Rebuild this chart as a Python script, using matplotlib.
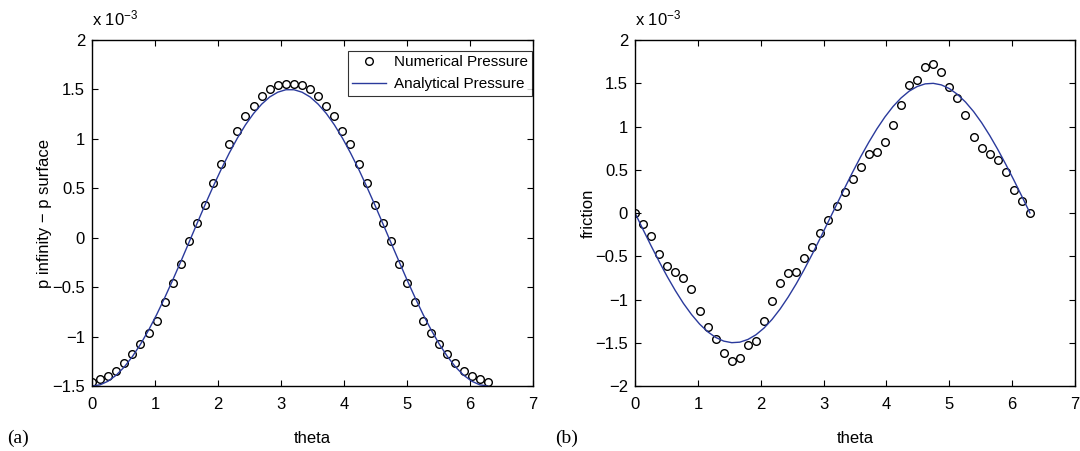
import numpy as np
import matplotlib.pyplot as plt

plt.rcParams['font.family'] = ['Liberation Sans', 'DejaVu Sans']
plt.rcParams['mathtext.default'] = 'regular'
plt.rcParams['xtick.direction'] = 'in'
plt.rcParams['ytick.direction'] = 'in'

# theta samples (0 .. 2*pi, 50 points)
theta = [0.000, 0.128, 0.256, 0.385, 0.513, 0.641, 0.769, 0.898, 1.026, 1.154,
         1.282, 1.411, 1.539, 1.667, 1.795, 1.923, 2.052, 2.180, 2.308, 2.436,
         2.565, 2.693, 2.821, 2.949, 3.077, 3.206, 3.334, 3.462, 3.590, 3.719,
         3.847, 3.975, 4.103, 4.232, 4.360, 4.488, 4.616, 4.744, 4.873, 5.001,
         5.129, 5.257, 5.386, 5.514, 5.642, 5.770, 5.898, 6.027, 6.155, 6.283]

# (a) pressure, units of 1e-3
p_num = [-1.455, -1.431, -1.397, -1.344, -1.266, -1.175, -1.070, -0.966, -0.841, -0.652,
         -0.454, -0.265, -0.032, 0.150, 0.332, 0.557, 0.746, 0.948, 1.077, 1.232,
         1.330, 1.431, 1.501, 1.542, 1.555, 1.555, 1.542, 1.501, 1.431, 1.330,
         1.232, 1.077, 0.948, 0.746, 0.557, 0.332, 0.150, -0.032, -0.265, -0.454,
         -0.652, -0.841, -0.966, -1.070, -1.175, -1.266, -1.344, -1.397, -1.431, -1.455]
p_ana = [-1.500, -1.488, -1.451, -1.390, -1.307, -1.202, -1.078, -0.935, -0.778, -0.607,
         -0.427, -0.239, -0.048, 0.144, 0.334, 0.518, 0.694, 0.858, 1.008, 1.142,
         1.257, 1.351, 1.424, 1.472, 1.497, 1.497, 1.472, 1.424, 1.351, 1.257,
         1.142, 1.008, 0.858, 0.694, 0.518, 0.334, 0.144, -0.048, -0.239, -0.427,
         -0.607, -0.778, -0.935, -1.078, -1.202, -1.307, -1.390, -1.451, -1.488, -1.500]

# (b) friction, units of 1e-3
f_num = [0.000, -0.131, -0.262, -0.474, -0.613, -0.686, -0.751, -0.879, -1.133, -1.322,
         -1.457, -1.622, -1.711, -1.680, -1.526, -1.476, -1.245, -1.014, -0.813, -0.697,
         -0.682, -0.524, -0.389, -0.231, -0.077, 0.085, 0.239, 0.393, 0.532, 0.682,
         0.702, 0.821, 1.021, 1.252, 1.483, 1.534, 1.684, 1.719, 1.630, 1.457,
         1.326, 1.137, 0.882, 0.755, 0.686, 0.616, 0.477, 0.266, 0.135, 0.000]
f_ana = [0.000, -0.192, -0.380, -0.563, -0.736, -0.897, -1.044, -1.173, -1.283, -1.372,
         -1.438, -1.481, -1.499, -1.493, -1.462, -1.408, -1.330, -1.230, -1.110, -0.972,
         -0.818, -0.651, -0.473, -0.287, -0.096, 0.096, 0.287, 0.473, 0.651, 0.818,
         0.972, 1.110, 1.230, 1.330, 1.408, 1.462, 1.493, 1.499, 1.481, 1.438,
         1.372, 1.283, 1.173, 1.044, 0.897, 0.736, 0.563, 0.380, 0.192, 0.000]

line_color = '#2a3a9c'

fig = plt.figure(figsize=(10.8, 4.51), dpi=100)
ax1 = fig.add_axes([0.0852, 0.1441, 0.4083, 0.7672])
ax2 = fig.add_axes([0.5880, 0.1441, 0.4074, 0.7672])


def style(ax, ylim, yticks):
    ax.set_xlim(0, 7)
    ax.set_ylim(*ylim)
    ax.set_xticks(range(0, 8))
    ax.set_yticks(yticks)
    ax.set_yticklabels([('%g' % v).replace('-', '\u2212') for v in yticks])
    ax.tick_params(labelsize=12, length=4, width=0.8, top=True, right=True)
    ax.tick_params(axis='x', pad=8)
    ax.tick_params(axis='y', pad=5)
    for s in ax.spines.values():
        s.set_linewidth(1.0)
    ax.set_xlabel('theta', fontsize=12, va='baseline')
    ax.xaxis.set_label_coords(0.5, -0.1647)
    ax.text(0.0, 1.043, 'x 10$^{\u22123}$', transform=ax.transAxes, fontsize=12,
            ha='left', va='baseline')


ax1.plot(theta, p_num, 'o', mfc='none', mec='black', ms=5.5, mew=1.0,
         label='Numerical Pressure')
ax1.plot(theta, p_ana, '-', color=line_color, lw=1.0, label='Analytical Pressure')
style(ax1, (-1.5, 2), np.arange(-1.5, 2.01, 0.5))
ax1.set_ylabel('p infinity \u2212 p surface', fontsize=12, labelpad=0)
leg = ax1.legend(loc='upper right', bbox_to_anchor=(0.998, 0.969), fontsize=11,
                 frameon=True, fancybox=False, edgecolor='black', borderaxespad=0.0,
                 handlelength=2.2, handletextpad=0.5, borderpad=0.3, labelspacing=0.5)
leg.get_frame().set_linewidth(0.8)

ax2.plot(theta, f_num, 'o', mfc='none', mec='black', ms=5.5, mew=1.0)
ax2.plot(theta, f_ana, '-', color=line_color, lw=1.0)
style(ax2, (-2, 2), np.arange(-2, 2.01, 0.5))
ax2.set_ylabel('friction', fontsize=12, labelpad=0)

fig.text(0.0065, 0.0177, '(a)', fontsize=14, family='Liberation Serif', va='baseline')
fig.text(0.514, 0.0177, '(b)', fontsize=14, family='Liberation Serif', va='baseline')

fig.savefig('out.png', dpi=100)
